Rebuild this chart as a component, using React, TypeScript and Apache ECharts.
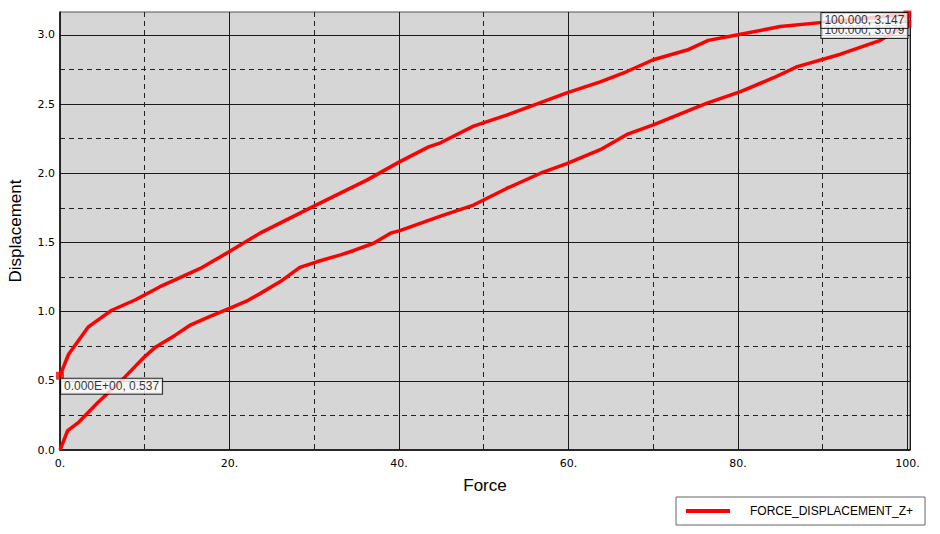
import React, { useEffect, useRef } from "react";
import * as echarts from "echarts";

const seriesName = "FORCE_DISPLACEMENT_Z+";

// Loading branch (force increasing)
const loadingForce = [0, 0.9, 2.2, 4.5, 7.7, 10, 11.2, 13.6, 15.3, 17.5, 20, 22, 23.6, 26, 28.3, 30.3, 33.1, 34.6, 37, 39, 40.1, 44.9, 48.8, 52.7, 56.7, 59.8, 63.75, 66.9, 70, 76.35, 80.3, 84.2, 87, 92.1, 96.8, 100];
const loadingDisp = [0, 0.14, 0.2, 0.345, 0.53, 0.675, 0.74, 0.83, 0.9, 0.96, 1.024, 1.075, 1.13, 1.217, 1.32, 1.36, 1.41, 1.44, 1.494, 1.567, 1.585, 1.69, 1.77, 1.89, 2.0, 2.07, 2.17, 2.28, 2.35, 2.506, 2.59, 2.69, 2.77, 2.86, 2.96, 3.079];

// Unloading branch (force decreasing)
const unloadingForce = [100, 95, 90, 85, 80, 76.5, 74, 70, 66.9, 63.75, 59.8, 56.7, 52.7, 48.8, 44.9, 43.5, 40, 36.2, 29.9, 23.6, 20, 16.5, 11.8, 8.85, 6.1, 3.35, 1, 0];
const unloadingDisp = [3.147, 3.12, 3.09, 3.06, 3.0, 2.96, 2.89, 2.82, 2.735, 2.66, 2.58, 2.51, 2.42, 2.34, 2.22, 2.19, 2.08, 1.95, 1.76, 1.567, 1.434, 1.31, 1.18, 1.084, 1.01, 0.89, 0.69, 0.537];

// Annotated points
const markForce = [100, 100, 0];
const markDisp = [3.079, 3.147, 0.537];
const markText = ["100.000, 3.079", "100.000, 3.147", "0.000E+00, 0.537"];

const xTickLabels = ["0.", "20.", "40.", "60.", "80.", "100."];
const yTickLabels = ["0.0", "0.5", "1.0", "1.5", "2.0", "2.5", "3.0"];

export default function App() {
  const ref = useRef<HTMLDivElement>(null);
  useEffect(() => {
    if (!ref.current) return;
    const chart = echarts.init(ref.current, undefined, { renderer: "svg" });
    const lineData: number[][] = [];
    loadingForce.forEach((f, i) => lineData.push([f, loadingDisp[i]]));
    unloadingForce.forEach((f, i) => lineData.push([f, unloadingDisp[i]]));

    const labelPos: any[] = [
      { position: [4, 3], align: "right" },
      { position: [4, 2.5], align: "right" },
      { position: [5, 7], align: "left" },
    ];
    const markData = markForce.map((f, i) => ({
      value: [f, markDisp[i]],
      label: {
        show: true,
        formatter: markText[i],
        position: labelPos[i].position,
        align: labelPos[i].align,
        verticalAlign: "top",
        backgroundColor: "#ffffff",
        borderColor: "#000000",
        borderWidth: 1,
        padding: [1, 3, 1, 3],
        fontSize: 12,
        lineHeight: 13,
        fontFamily: "Liberation Sans, Arial, sans-serif",
        color: "#000",
      },
    }));

    const fmtX = (v: number) => {
      const idx = Math.round(v / 20);
      return Math.abs(v - idx * 20) < 1e-6 && idx < xTickLabels.length ? xTickLabels[idx] : "";
    };
    const fmtY = (v: number) => {
      const idx = Math.round(v / 0.5);
      return Math.abs(v - idx * 0.5) < 1e-6 && idx < yTickLabels.length ? yTickLabels[idx] : "";
    };

    const tickFont = { fontSize: 11, fontFamily: "DejaVu Sans, Verdana, sans-serif", color: "#000" };
    const nameFont = { fontSize: 17, fontFamily: "Liberation Sans, Arial, sans-serif", color: "#000" };

    chart.setOption({
      animation: false,
      grid: {
        left: 60,
        right: 30,
        top: 12,
        bottom: 84,
        containLabel: false,
        outerBoundsMode: "none",
        show: true,
        backgroundColor: "#d6d6d6",
        borderColor: "#555",
        borderWidth: 1,
      },
      legend: {
        show: true,
        data: [{ name: seriesName, icon: "rect" }],
        left: 676,
        top: 497,
        itemWidth: 44,
        itemHeight: 4,
        backgroundColor: "#ffffff",
        borderColor: "#666",
        borderWidth: 1,
        borderRadius: 0,
        padding: [7, 12, 7, 10],
        itemStyle: { color: "#ff0000", borderWidth: 0 },
        textStyle: { fontSize: 12, lineHeight: 14, fontFamily: "Liberation Sans, Arial, sans-serif", color: "#000", padding: [0, 0, 0, 15] },
      },
      xAxis: [
        {
          type: "value",
          min: 0,
          max: 100.3,
          interval: 20,
          position: "bottom",
          name: "Force",
          nameLocation: "middle",
          nameGap: 27,
          nameTextStyle: nameFont,
          axisLine: { show: true, lineStyle: { color: "#000", width: 1.5 } },
          axisTick: { show: false },
          axisLabel: { ...tickFont, margin: 8, formatter: fmtX, showMaxLabel: false },
          splitLine: { show: true, showMinLine: false, lineStyle: { color: "#1a1a1a", width: 1, type: "solid" } },
        },
        {
          type: "value",
          min: 0,
          max: 100.3,
          interval: 10,
          position: "top",
          axisLine: { show: false },
          axisTick: { show: false },
          axisLabel: { show: false },
          splitLine: { show: true, showMaxLine: false, lineStyle: { color: ["rgba(0,0,0,0)", "#222"], width: 1, type: [5, 4] } },
        },
      ],
      yAxis: [
        {
          type: "value",
          min: 0,
          max: 3.165,
          interval: 0.5,
          position: "left",
          name: "Displacement",
          nameLocation: "middle",
          nameGap: 36,
          nameTextStyle: nameFont,
          axisLine: { show: true, lineStyle: { color: "#000", width: 1.5 } },
          axisTick: { show: false },
          axisLabel: { ...tickFont, margin: 5, formatter: fmtY, showMaxLabel: false },
          splitLine: { show: true, showMinLine: false, showMaxLine: false, lineStyle: { color: "#1a1a1a", width: 1, type: "solid" } },
        },
        {
          type: "value",
          min: 0,
          max: 3.165,
          interval: 0.25,
          position: "right",
          axisLine: { show: false },
          axisTick: { show: false },
          axisLabel: { show: false },
          splitLine: { show: true, showMaxLine: false, lineStyle: { color: ["rgba(0,0,0,0)", "#222"], width: 1, type: [5, 4] } },
        },
      ],
      series: [
        {
          name: seriesName,
          type: "line",
          xAxisIndex: 0,
          yAxisIndex: 0,
          data: lineData,
          symbol: "none",
          smooth: false,
          clip: false,
          lineStyle: { color: "#ff0000", width: 3.5 },
          itemStyle: { color: "#ff0000" },
          z: 3,
        },
        {
          name: "marks",
          type: "scatter",
          xAxisIndex: 0,
          yAxisIndex: 0,
          data: markData,
          symbol: "rect",
          symbolSize: 8,
          clip: false,
          itemStyle: { color: "#ff0000" },
          z: 5,
        },
      ],
    });
    return () => chart.dispose();
  }, []);
  return <div ref={ref} style={{ position: "absolute", left: 0, top: 0, width: 940, height: 534 }} />;
}
